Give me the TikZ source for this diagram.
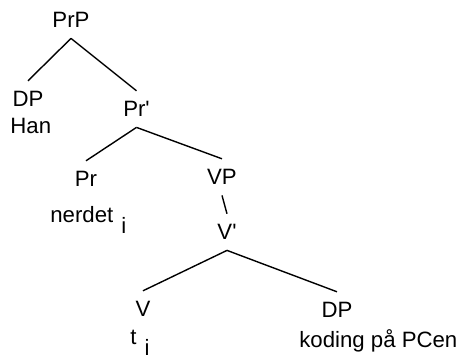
\documentclass[tikz,border=0pt]{standalone}
\usepackage{fontspec}
\setmainfont{Liberation Sans}
\tikzset{
  cat/.style    = {inner xsep=0pt, inner ysep=5pt, text height=7.9pt, text depth=0pt, anchor=base},
  word/.style   = {inner sep=0pt, anchor=base west},
  branch/.style = {line width=0.7pt},
}
% lowered coindex after a word
\newcommand{\coidx}[1]{\kern4pt\lower5.3pt\hbox{#1}}

\begin{document}
\begin{tikzpicture}[x=0.5pt,y=-0.5pt,font=\fontsize{11.1}{13}\selectfont]
\useasboundingbox (0,0) rectangle (463,358);
% categories
\node[cat] (prp)   at (71,28)    {PrP};
\node[cat] (dpa)   at (28,107)   {DP};
\node[cat] (prbar) at (136.5,117) {Pr\textquotesingle};
\node[cat] (pr)    at (86,187)   {Pr};
\node[cat] (vp)    at (222,185)  {VP};
\node[cat] (vbar)  at (227,240)  {V\textquotesingle};
\node[cat] (v)     at (143,317)  {V};
\node[cat] (dpb)   at (337,318)  {DP};
% lexical material under the heads
\node[word] (han)    at (10,134)  {Han};
\node[word] (nerdet) at (50,223)  {nerdet\coidx{i}};
\node[word] (trace)  at (130,345) {t\coidx{i}};
\node[word] (obj)    at (299,348) {koding på PCen};
% branches
\draw[branch] (prp.south)   -- (dpa.north);
\draw[branch] (prp.south)   -- (prbar.north);
\draw[branch] (prbar.south) -- (pr.north);
\draw[branch] (prbar.south) -- (vp.north);
\draw[branch] (vp.south)    -- (vbar.north);
\draw[branch] (vbar.south)  -- (v.north);
\draw[branch] (vbar.south)  -- (dpb.north);
\end{tikzpicture}
\end{document}
